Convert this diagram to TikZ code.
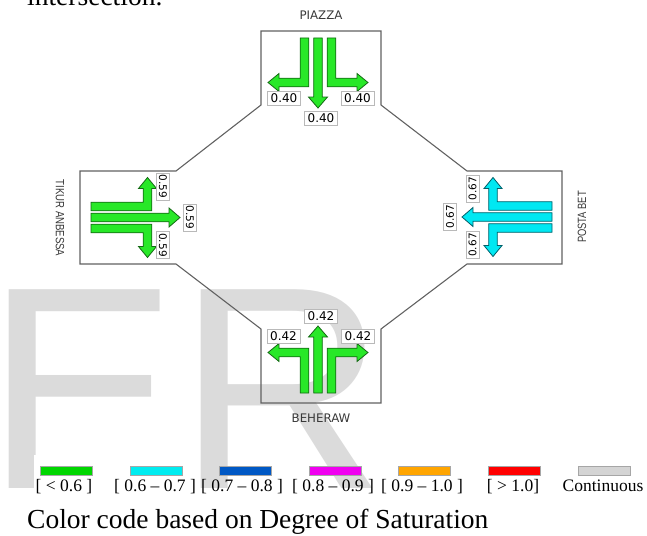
\documentclass[tikz,border=0pt]{standalone}
\usepackage{fontspec}
\setmainfont{Liberation Serif}
\setsansfont{DejaVu Sans}
\newfontfamily\armfont{Liberation Sans}

\definecolor{lanegreen}{RGB}{40,232,40}
\definecolor{greenedge}{RGB}{20,105,20}
\definecolor{lanecyan}{RGB}{0,232,242}
\definecolor{cyanedge}{RGB}{0,95,105}
\definecolor{keygreen}{RGB}{0,214,0}
\definecolor{keycyan}{RGB}{0,236,240}
\definecolor{keyblue}{RGB}{0,88,196}
\definecolor{keymagenta}{RGB}{240,0,240}
\definecolor{keyorange}{RGB}{255,165,0}
\definecolor{keyred}{RGB}{255,0,0}
\definecolor{keygrey}{RGB}{212,212,212}

% three lane arrows of one approach, drawn along +x from the origin
% #1 fill, #2 edge, #3 side offset, #4 turn point, #5 turn reach, #6 straight reach
\newcommand{\lanearrows}[6]{%
  \filldraw[lane, fill=#1, draw=#2] (0,-4.3) -- ({#6-11},-4.3) -- ({#6-11},-9.5) -- (#6,0)
    -- ({#6-11},9.5) -- ({#6-11},4.3) -- (0,4.3) -- cycle;
  \foreach \s in {1,-1}
    \filldraw[lane, fill=#1, draw=#2, yscale=\s] (0,{#3-4.3}) -- ({#4+4.3},{#3-4.3})
      -- ({#4+4.3},{#5-11}) -- ({#4+9},{#5-11}) -- (#4,#5) -- ({#4-9},{#5-11})
      -- ({#4-4.3},{#5-11}) -- ({#4-4.3},{#3+4.3}) -- (0,{#3+4.3}) -- cycle;
}

\begin{document}
\begin{tikzpicture}[x=1pt, y=-1pt,
    road/.style={draw=black!62, line width=1.1pt},
    lane/.style={line width=0.8pt, line join=miter},
    flow/.style={draw=gray!55, fill=white, line width=0.6pt, inner xsep=3pt, inner ysep=2.6pt,
      font=\sffamily\fontsize{12}{12}\selectfont},
    sideflow/.style={flow, inner xsep=2pt, font=\sffamily\fontsize{10.5}{10.5}\selectfont},
    arm/.style={inner sep=0pt, text=black!78, font=\sffamily\fontsize{11.8}{12}\selectfont},
    key/.style={draw=gray!70, line width=0.6pt},
    keytext/.style={anchor=base, inner sep=0pt, font=\fontsize{17.5}{18}\selectfont},
    body/.style={anchor=base west, inner sep=0pt, font=\fontsize{27.5}{28}\selectfont}]

\useasboundingbox (0,0) rectangle (647,535);
\clip (0,0) rectangle (647,535);

% watermark behind everything
\node[anchor=base west, inner sep=0pt, text=gray!28,
  font=\armfont\fontsize{289}{289}\selectfont] (mark) at (-15,488) {ER};
\fill[white] (34,455) rectangle (186,500);

% tail of the text above
\node[body] (lead) at (27,6) {intersection.};

% approach boxes joined by the kerb lines
\draw[road] (261,105) -- (261,31) -- (381,31) -- (381,105) -- (467,171) -- (562,171)
  -- (562,264) -- (467,264) -- (381,329) -- (381,403) -- (261,403) -- (261,329)
  -- (176,264) -- (80,264) -- (80,171) -- (176,171) -- cycle;

% lane arrows
\begin{scope}[shift={(318,38)}, rotate=-90]
  \lanearrows{lanegreen}{greenedge}{13.5}{44.5}{50}{70}
\end{scope}
\begin{scope}[shift={(91,217.5)}]
  \lanearrows{lanegreen}{greenedge}{11}{56.5}{40}{89}
\end{scope}
\begin{scope}[shift={(552,217)}, rotate=180]
  \lanearrows{lanecyan}{cyanedge}{11}{59}{39.5}{90}
\end{scope}
\begin{scope}[shift={(318,393)}, rotate=90]
  \lanearrows{lanegreen}{greenedge}{13.5}{40.5}{50}{67}
\end{scope}

% degree of saturation per movement
\node[flow] (pl) at (284,98.5) {0.40};
\node[flow] (ps) at (321,118.5) {0.40};
\node[flow] (pr) at (357.5,98.5) {0.40};
\node[sideflow, rotate=-90] (tl) at (163,186.5) {0.59};
\node[sideflow, rotate=-90] (ts) at (190,217.5) {0.59};
\node[sideflow, rotate=-90] (tr) at (163,245) {0.59};
\node[sideflow, rotate=90] (pbr) at (472.5,188.5) {0.67};
\node[sideflow, rotate=90] (pbs) at (450,216.5) {0.67};
\node[sideflow, rotate=90] (pbl) at (472.5,245) {0.67};
\node[flow] (bl) at (283.5,336) {0.42};
\node[flow] (bs) at (321,316) {0.42};
\node[flow] (br) at (358,336) {0.42};

% approach names
\node[arm] (piazza) at (321,15) {PIAZZA};
\node[arm] (beheraw) at (321,418) {BEHERAW};
\node[arm, rotate=-90, font=\armfont\fontsize{12}{12}\selectfont] (tikur) at (60,218) {\scalebox{0.8}[1]{TIKUR ANBESSA}};
\node[arm, rotate=90, font=\armfont\fontsize{12}{12}\selectfont] (posta) at (582,217) {\scalebox{0.78}[1]{POSTA BET}};

% colour key
\foreach \x/\c in {40/keygreen, 130/keycyan, 219/keyblue, 309/keymagenta, 398/keyorange, 488/keyred, 578/keygrey}
  \draw[key, fill=\c] (\x,466) rectangle ++(52,9);
\node[keytext] (k1) at (64,491) {[ < 0.6 ]};
\node[keytext] (k2) at (155,491) {[ 0.6 – 0.7 ]};
\node[keytext] (k3) at (242,491) {[ 0.7 – 0.8 ]};
\node[keytext] (k4) at (333,491) {[ 0.8 – 0.9 ]};
\node[keytext] (k5) at (422,491) {[ 0.9 – 1.0 ]};
\node[keytext] (k6) at (513,491) {[ > 1.0]};
\node[keytext] (k7) at (603,491) {Continuous};

\node[body] (caption) at (27,528) {Color code based on Degree of Saturation};
\end{tikzpicture}
\end{document}
